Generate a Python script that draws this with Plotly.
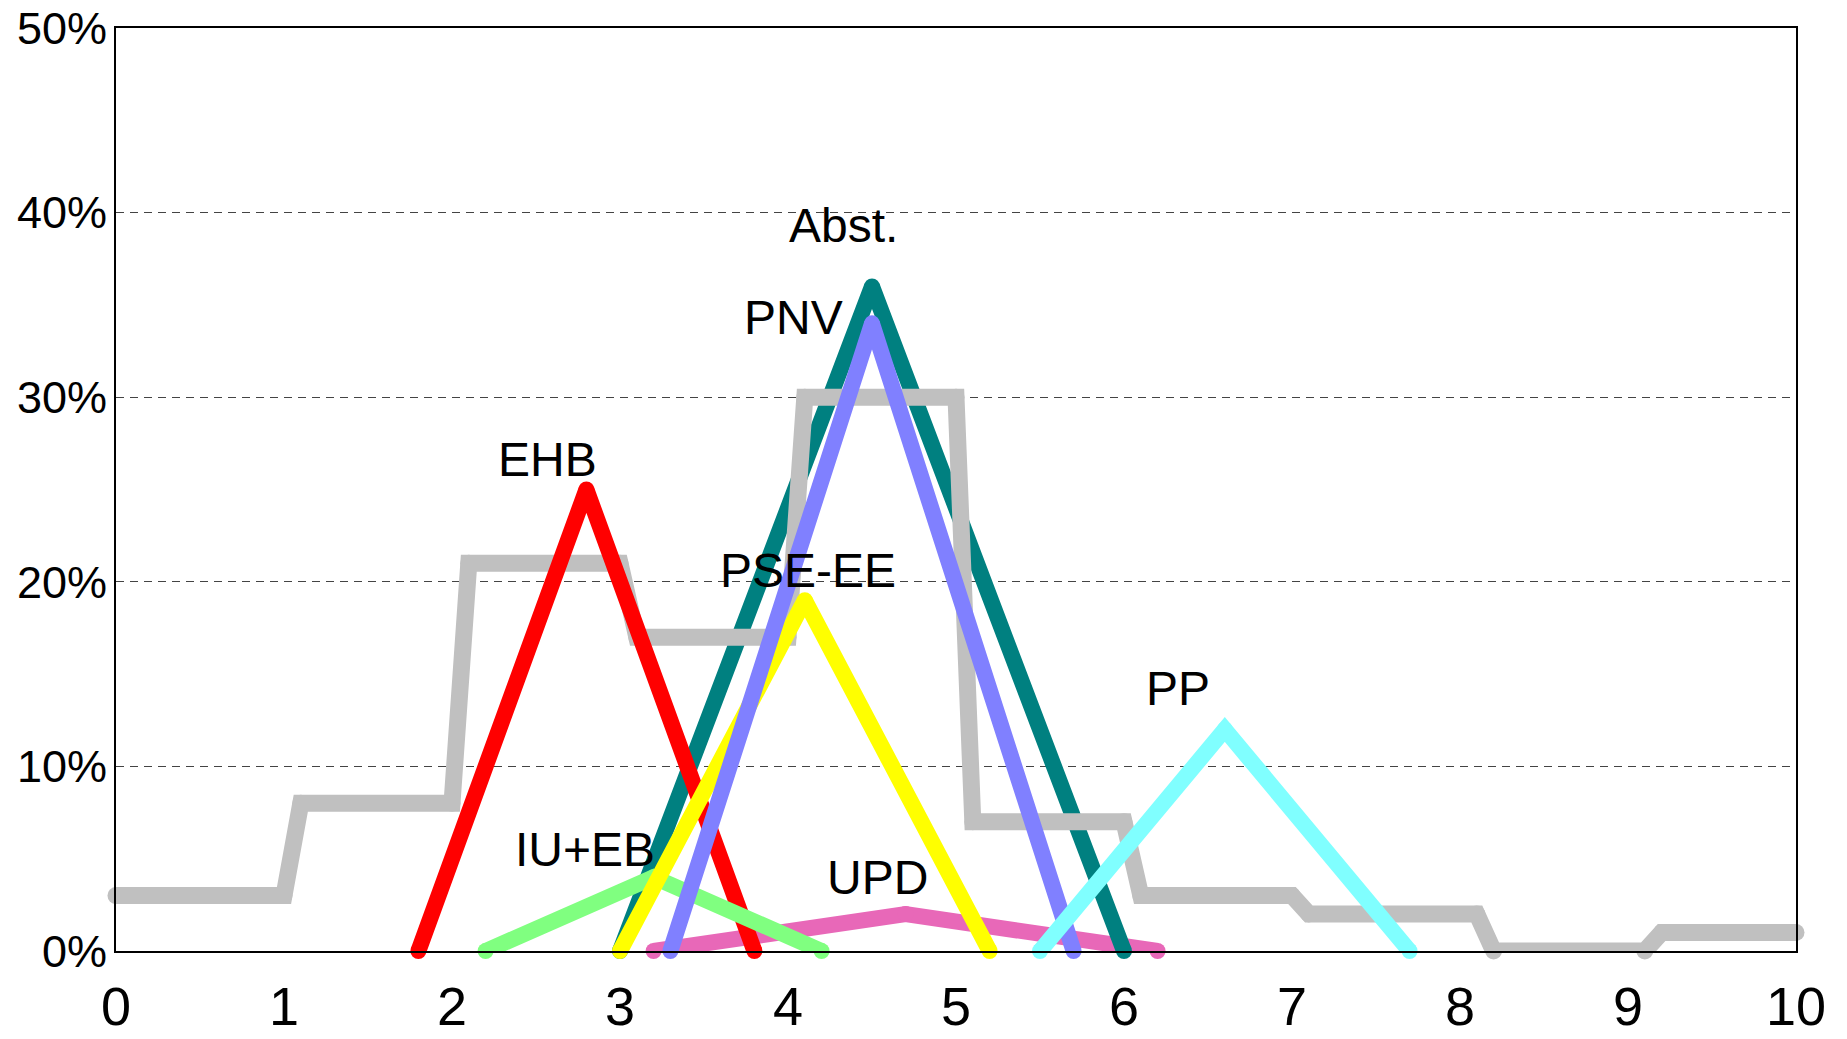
import plotly.graph_objects as go

# seats share (%) against x (0..10)
gray_x = [0, 1.0, 1.1, 2.0, 2.1, 3.0, 3.1, 4.0, 4.1, 5.0, 5.1, 6.0, 6.1, 7.0, 7.1, 8.1, 8.2, 9.1, 9.2, 10]
gray_y = [3, 3, 8, 8, 21, 21, 17, 17, 30, 30, 7, 7, 3, 3, 2, 2, 0, 0, 1, 1]

upd_x = [3.2, 4.7, 6.2]
upd_y = [0, 2, 0]
abst_x = [3.0, 4.5, 6.0]
abst_y = [0, 36, 0]
ehb_x = [1.8, 2.8, 3.8]
ehb_y = [0, 25, 0]
iueb_x = [2.2, 3.2, 4.2]
iueb_y = [0, 4, 0]
pse_x = [3.0, 4.1, 5.2]
pse_y = [0, 19, 0]
pnv_x = [3.3, 4.5, 5.7]
pnv_y = [0, 34, 0]
pp_x = [5.5, 6.6, 7.7]
pp_y = [0, 12, 0]

x_ticks = list(range(0, 11))
y_ticks = [0, 10, 20, 30, 40, 50]
y_ticktext = [f'{v}%' for v in y_ticks]

FONT = 'Liberation Sans, Arial, sans-serif'

# drawing order bottom -> top
series = [
  ('UPD', upd_x, upd_y, '#E868B8', 16),
  ('Abst.', abst_x, abst_y, '#008080', 16),
  ('total', gray_x, gray_y, '#C0C0C0', 17),
  ('EHB', ehb_x, ehb_y, '#FF0000', 16),
  ('IU+EB', iueb_x, iueb_y, '#80FF80', 16),
  ('PSE-EE', pse_x, pse_y, '#FFFF00', 16),
  ('PNV', pnv_x, pnv_y, '#8080FF', 16),
  ('PP', pp_x, pp_y, '#80FFFF', 16),
]

# label placement (x, y in data units)
labels = [
  ('Abst.', 4.33, 39.3),
  ('PNV', 4.03, 34.3),
  ('EHB', 2.57, 26.6),
  ('PSE-EE', 4.12, 20.6),
  ('IU+EB', 2.79, 5.5),
  ('UPD', 4.53, 4.0),
  ('PP', 6.32, 14.2),
]

fig = go.Figure()
for name, xs, ys, color, w in series:
  fig.add_trace(go.Scatter(x=xs, y=ys, name=name, mode='lines+markers',
                           line=dict(color=color, width=w),
                           marker=dict(color=color, size=w, line=dict(width=0)),
                           cliponaxis=False, hoverinfo='skip'))

for text, lx, ly in labels:
  fig.add_annotation(x=lx, y=ly, text=text, showarrow=False,
                     xanchor='center', yanchor='middle',
                     font=dict(family=FONT, size=48, color='black'))

fig.update_xaxes(range=[0, 10], tickvals=x_ticks, showgrid=False, zeroline=False,
                 showline=True, linecolor='black', linewidth=2, mirror=True,
                 ticks='', ticklabelstandoff=7, automargin=False,
                 ticklabeloverflow='allow',
                 tickfont=dict(family=FONT, size=54, color='black'))
fig.update_yaxes(range=[0, 50], tickvals=y_ticks, ticktext=y_ticktext, zeroline=False,
                 showgrid=True, gridcolor='#444444', gridwidth=1, griddash='8px,6px',
                 showline=True, linecolor='black', linewidth=2, mirror=True,
                 ticks='', ticklabelstandoff=-2, automargin=False,
                 ticklabeloverflow='allow',
                 tickfont=dict(family=FONT, size=45, color='black'))

# page body adds an 8px margin, so the figure is offset to line up with the window
fig.update_layout(width=1831, height=1031, showlegend=False,
                  plot_bgcolor='white', paper_bgcolor='white',
                  margin=dict(l=108, r=43, t=20, b=88))

fig.write_html("out.html")
